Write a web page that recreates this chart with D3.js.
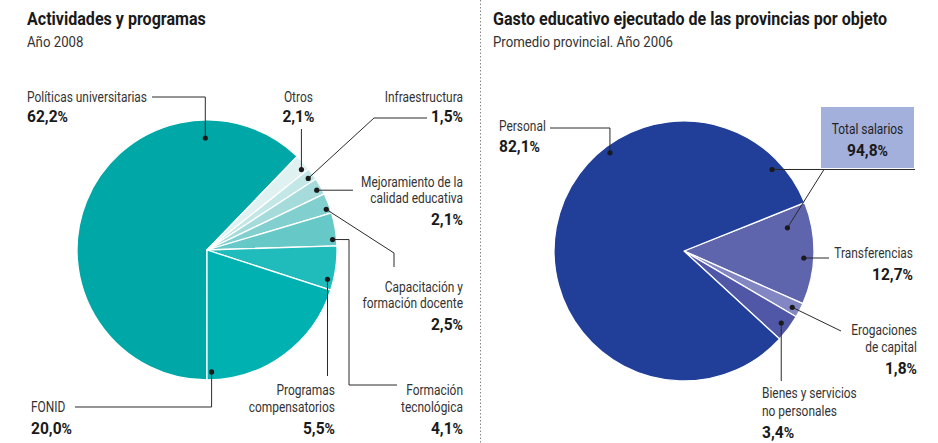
<!DOCTYPE html>
<html>
<head>
<meta charset="utf-8">
<script src="https://cdn.jsdelivr.net/npm/d3@7"></script>
<style>
  html, body { margin: 0; padding: 0; background: #fff; }
  svg { display: block; }
  text { font-family: Roboto, "Noto Sans", sans-serif; fill: #222; }
  .title { font-weight: bold; font-size: 18px; fill: #1a1a1a; }
  .subtitle { font-size: 14px; fill: #333; }
  .lbl { font-size: 14px; fill: #333; }
  .pct { font-size: 16px; font-weight: bold; fill: #1a1a1a; }
  .pct .sign { font-size: 14.5px; }
</style>
</head>
<body>
<svg id="chart" width="938" height="443"></svg>
<script>
// ---- Data: Actividades y programas, año 2008 ----
const actCategories = ["Políticas universitarias", "Otros", "Infraestructura",
  "Mejoramiento de la calidad educativa", "Capacitación y formación docente",
  "Formación tecnológica", "Programas compensatorios", "FONID"];
const actValues = [62.2, 2.1, 1.5, 2.1, 2.5, 4.1, 5.5, 20.0];
const actColors = ["#00a7a7", "#dff1f1", "#c3e6e6", "#a5dbdb", "#82cfcf", "#67c8c8", "#20bbbb", "#00b1b1"];

// ---- Data: Gasto educativo por objeto, promedio provincial 2006 ----
const gastoCategories = ["Transferencias", "Erogaciones de capital", "Bienes y servicios no personales", "Personal"];
const gastoValues = [12.7, 1.8, 3.4, 82.1];
const gastoColors = ["#5f65ad", "#8287c4", "#5157a7", "#213f99"];
const totalSalariosLabel = "Total salarios";
const totalSalariosValue = 94.8;

const fmt = v => d3.format(".1f")(v).replace(".", ",");

const svg = d3.select("#chart");

// The newspaper face is a condensed sans; emulate it by narrowing each text run.
const sample = {
  title: ["Gasto educativo ejecutado de las provincias por objeto", 394],
  subtitle: ["Promedio provincial. Año 2006", 180],
  lbl: ["Políticas universitarias", 120],
  pct: ["62,2%", 41]
};
const squeeze = {};
Object.entries(sample).forEach(([cls, [str, w]]) => {
  const t = svg.append("text").attr("class", cls).attr("x", -999).attr("y", -999);
  if (cls === "pct") {
    t.append("tspan").text(str.slice(0, -1));
    t.append("tspan").attr("class", "sign").text("%");
  } else t.text(str);
  squeeze[cls] = w / t.node().getComputedTextLength();
  t.remove();
});
function condense(t, cls) {
  const n = t.node().getComputedTextLength();
  t.attr("textLength", n * squeeze[cls]).attr("lengthAdjust", "spacingAndGlyphs");
  return t;
}

// Divider between the two panels
svg.append("line")
  .attr("x1", 480.5).attr("x2", 480.5).attr("y1", 0).attr("y2", 443)
  .attr("stroke", "#888").attr("stroke-width", 1).attr("stroke-dasharray", "1.5,2");

// Titles
function titles(x, t, s) {
  condense(svg.append("text").attr("class", "title").attr("x", x).attr("y", 25).text(t), "title");
  condense(svg.append("text").attr("class", "subtitle").attr("x", x).attr("y", 47).text(s), "subtitle");
}
titles(27, "Actividades y programas", "Año 2008");
titles(493, "Gasto educativo ejecutado de las provincias por objeto", "Promedio provincial. Año 2006");

const deg = Math.PI / 180;

function drawPie(cx, cy, r, values, colors, startDeg) {
  const g = svg.append("g").attr("transform", `translate(${cx},${cy})`);
  const pie = d3.pie().sort(null).value(d => d)
    .startAngle(startDeg * deg).endAngle(startDeg * deg + 2 * Math.PI);
  const arc = d3.arc().innerRadius(0).outerRadius(r);
  const arcs = pie(values);
  g.selectAll("path").data(arcs).join("path")
    .attr("d", arc)
    .attr("fill", (d, i) => colors[i])
    .attr("stroke", "#fff").attr("stroke-width", 1.3).attr("stroke-linejoin", "round");
  return { g, arcs, cx, cy };
}

// Point inside slice i: fraction t across the slice's angular span, at radius rr
function slicePoint(p, i, t, rr) {
  const a = p.arcs[i];
  const ang = a.startAngle + (a.endAngle - a.startAngle) * t;
  const [x, y] = d3.pointRadial(ang, rr);
  return [p.cx + x, p.cy + y];
}

function leader(pts) {
  svg.append("path")
    .attr("d", d3.line()(pts))
    .attr("fill", "none").attr("stroke", "#2a2a2a").attr("stroke-width", 1);
}
function dot([x, y]) {
  svg.append("circle").attr("cx", x).attr("cy", y).attr("r", 2.6).attr("fill", "#1a1a1a");
}
function pctText(parent, x, y, anchor, value) {
  const p = parent.append("text").attr("class", "pct").attr("x", x).attr("y", y).attr("text-anchor", anchor);
  p.append("tspan").text(fmt(value));
  p.append("tspan").attr("class", "sign").text("%");
  condense(p, "pct");
}
function label(x, anchor, lines, baselines, value, pctY) {
  const t = svg.append("g");
  lines.forEach((ln, k) => {
    condense(t.append("text").attr("class", "lbl").attr("x", x).attr("y", baselines[k])
      .attr("text-anchor", anchor).text(ln), "lbl");
  });
  pctText(t, x, pctY, anchor, value);
}

// ---------- Left pie ----------
const L = drawPie(207, 250, 130, actValues, actColors, -180);

// Políticas universitarias
let d = slicePoint(L, 0, 0.80, 112);
leader([d, [d[0], 97], [152, 97]]); dot(d);
label(27, "start", ["Políticas universitarias"], [102], actValues[0], 122);

// Otros
d = slicePoint(L, 1, 0.75, 124);
leader([d, [d[0], 129]]); dot(d);
label(d[0] - 3, "middle", ["Otros"], [102], actValues[1], 122);

// Infraestructura
d = slicePoint(L, 2, 0.6, 124);
leader([d, [374, 118], [427, 118]]); dot(d);
label(463, "end", ["Infraestructura"], [102], actValues[2], 122);

// Mejoramiento de la calidad educativa
d = slicePoint(L, 3, 0.6, 125);
leader([d, [353, d[1]]]); dot(d);
label(463, "end", ["Mejoramiento de la", "calidad educativa"], [187, 203], actValues[3], 225);

// Capacitación y formación docente
d = slicePoint(L, 4, 0.75, 126);
leader([d, [394, 253], [394, 267]]); dot(d);
label(463, "end", ["Capacitación y", "formación docente"], [292, 308], actValues[4], 330);

// Formación tecnológica
d = slicePoint(L, 5, 0.8, 126);
leader([d, [349, d[1]], [349, 385], [397, 385]]); dot(d);
label(463, "end", ["Formación", "tecnológica"], [395, 412], actValues[5], 434);

// Programas compensatorios
d = slicePoint(L, 6, 0.78, 124);
leader([d, [d[0], 376]]); dot(d);
label(335, "end", ["Programas", "compensatorios"], [395, 412], actValues[6], 434);

// FONID
d = slicePoint(L, 7, 0.97, 122);
leader([d, [d[0], 407], [75, 407]]); dot(d);
label(31, "start", ["FONID"], [412], actValues[7], 434);

// ---------- Right pie ----------
const R = drawPie(684, 251, 130, gastoValues, gastoColors, 68.2);

// Total salarios box (Personal + Transferencias)
svg.append("rect").attr("x", 821).attr("y", 107).attr("width", 93).attr("height", 61).attr("fill", "#a3b0dc");
condense(svg.append("text").attr("class", "lbl").attr("x", 867.5).attr("y", 134)
  .attr("text-anchor", "middle").style("fill", "#222").text(totalSalariosLabel), "lbl");
pctText(svg, 867.5, 156, "middle", totalSalariosValue);

const dPers = slicePoint(R, 3, 0.929, 120);
const dTrans = slicePoint(R, 0, 0.2, 106);
leader([dPers, [915, dPers[1]]]);
leader([[824, dPers[1]], dTrans]);
dot(dPers); dot(dTrans);

// Personal
d = slicePoint(R, 3, 0.644, 123);
leader([d, [d[0], 128], [550, 128]]); dot(d);
label(499, "start", ["Personal"], [131], gastoValues[3], 152);

// Transferencias
d = slicePoint(R, 0, 0.55, 120);
leader([d, [829, d[1]]]); dot(d);
label(913, "end", ["Transferencias"], [258], gastoValues[0], 280);

// Erogaciones de capital
d = slicePoint(R, 1, 0.55, 122);
leader([d, [841, 331]]); dot(d);
label(917, "end", ["Erogaciones", "de capital"], [335, 352], gastoValues[1], 374);

// Bienes y servicios no personales
d = slicePoint(R, 2, 0.5, 121);
leader([d, [d[0], 381]]); dot(d);
label(762, "start", ["Bienes y servicios", "no personales"], [398, 416], gastoValues[2], 438);
</script>
</body>
</html>
